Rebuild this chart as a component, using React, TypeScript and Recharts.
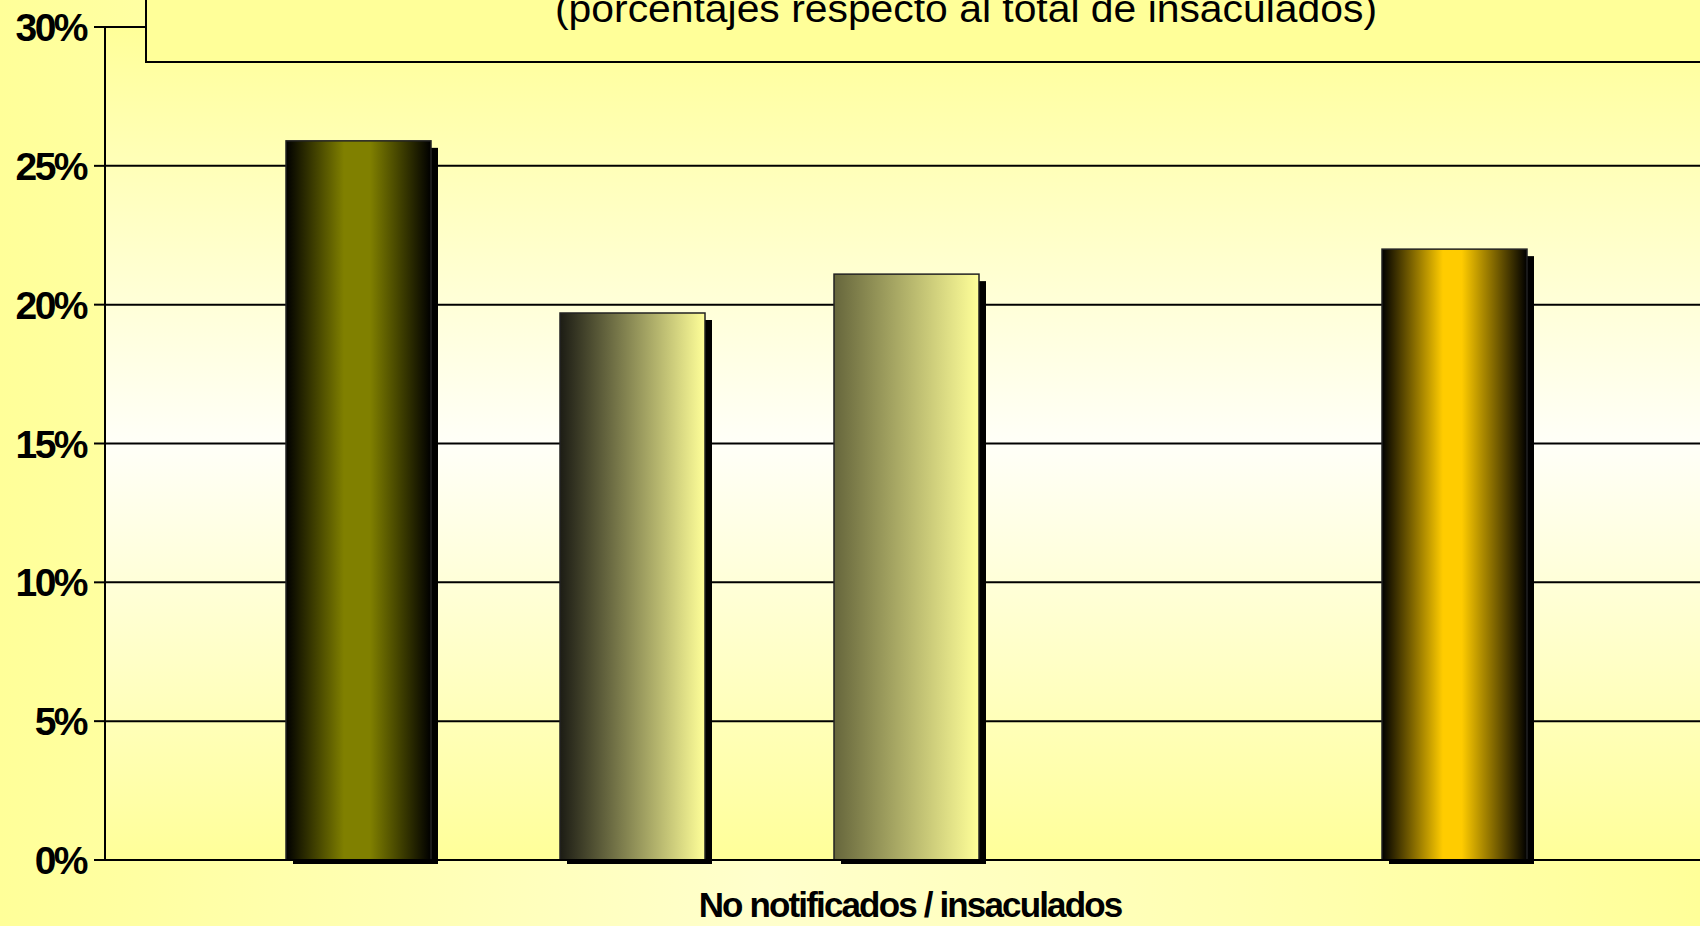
import React from 'react';
import { BarChart, Bar, XAxis, YAxis, CartesianGrid } from 'recharts';

// values (percent of total insaculados)
const categories = ['No notificados / insaculados'];
const seriesNames = ['Serie 1', 'Serie 2', 'Serie 3', 'Serie 4', 'Serie 5'];
const seriesValues = [25.9, 19.7, 21.1, 0, 22.0];
const yTicks = [0, 5, 10, 15, 20, 25, 30];
const subtitle = '(porcentajes respecto al total de insaculados)';

// horizontal "dark - colour - dark" style fills, one per series
const barGradients = [
  [['0%', '#000000'], ['40%', '#808000'], ['58%', '#808000'], ['100%', '#000000']],
  [['0%', '#1c1c14'], ['100%', '#ffff99']],
  [['0%', '#66663c'], ['100%', '#ffff99']],
  [['0%', '#000000'], ['50%', '#999999'], ['100%', '#000000']],
  [['0%', '#000000'], ['42%', '#ffcc00'], ['55%', '#ffcc00'], ['100%', '#000000']],
];

const FONT = '"Liberation Sans", Arial, sans-serif';

const data = categories.map((name) => {
  const row: Record<string, any> = { name };
  seriesNames.forEach((_, i) => {
    row[`s${i}`] = seriesValues[i];
  });
  return row;
});

// bar with a hard black drop shadow down-right
const ShadowBar = (props: any) => {
  const { x, y, width, height, fill } = props;
  if (!height || height <= 0) return null;
  return (
    <g>
      <rect x={x + 7} y={y + 7} width={width} height={height - 3} fill="#000" />
      <rect x={x} y={y} width={width} height={height} fill={fill} stroke="#222" strokeWidth={1.5} />
    </g>
  );
};

const PercentTick = ({ y, payload }: any) => (
  <text
    x={86}
    y={y + 14}
    textAnchor="end"
    fontFamily={FONT}
    fontWeight="bold"
    fontSize={39}
    letterSpacing={-2.5}
    fill="#000"
  >
    {`${payload.value}%`}
  </text>
);

const CategoryTick = ({ x, payload }: any) => (
  <text
    x={x + 4}
    y={917}
    textAnchor="middle"
    fontFamily={FONT}
    fontWeight="bold"
    fontSize={35}
    letterSpacing={-1.85}
    fill="#000"
  >
    {payload.value}
  </text>
);

export default function App() {
  return (
    <div
      style={{
        position: 'absolute',
        left: 0,
        top: 0,
        width: 1700,
        height: 926,
        overflow: 'hidden',
        background: 'linear-gradient(to right, #ffff99 0%, #ffffcc 45%, #ffff99 100%)',
      }}
    >
      <BarChart
        width={1710}
        height={926}
        data={data}
        margin={{ top: 27, right: 3, bottom: 0, left: 0 }}
        barSize={145}
        barGap={129}
      >
        <defs>
          <linearGradient id="plotBg" x1="0" y1="0" x2="0" y2="1">
            <stop offset="0%" stopColor="#ffff99" />
            <stop offset="50%" stopColor="#fffff8" />
            <stop offset="100%" stopColor="#ffff99" />
          </linearGradient>
          {barGradients.map((stops, i) => (
            <linearGradient key={i} id={`bar${i}`} x1="0" y1="0" x2="1" y2="0">
              {stops.map(([off, col]) => (
                <stop key={off} offset={off} stopColor={col} />
              ))}
            </linearGradient>
          ))}
        </defs>
        <CartesianGrid
          vertical={false}
          stroke="#000"
          strokeWidth={2}
          fill="url(#plotBg)"
          fillOpacity={1}
        />
        <XAxis
          dataKey="name"
          height={66}
          tickLine={false}
          axisLine={{ stroke: '#000', strokeWidth: 2 }}
          tick={<CategoryTick />}
        />
        <YAxis
          width={105}
          domain={[0, 30]}
          ticks={yTicks}
          interval={0}
          tickSize={11}
          axisLine={{ stroke: '#000', strokeWidth: 2 }}
          tickLine={{ stroke: '#000', strokeWidth: 2 }}
          tick={<PercentTick />}
        />
        {seriesNames.map((s, i) => (
          <Bar
            key={s}
            name={s}
            dataKey={`s${i}`}
            fill={`url(#bar${i})`}
            shape={<ShadowBar />}
            isAnimationActive={false}
          />
        ))}
      </BarChart>
      <svg
        width={1700}
        height={926}
        style={{ position: 'absolute', left: 0, top: 0, pointerEvents: 'none' }}
      >
        <rect x={146} y={-10} width={1600} height={72} fill="#ffff99" stroke="#000" strokeWidth={2} />
        <text
          x={966}
          y={22}
          textAnchor="middle"
          fontFamily={FONT}
          fontSize={38}
          textLength={822}
          lengthAdjust="spacingAndGlyphs"
          fill="#000"
        >
          {subtitle}
        </text>
      </svg>
    </div>
  );
}
